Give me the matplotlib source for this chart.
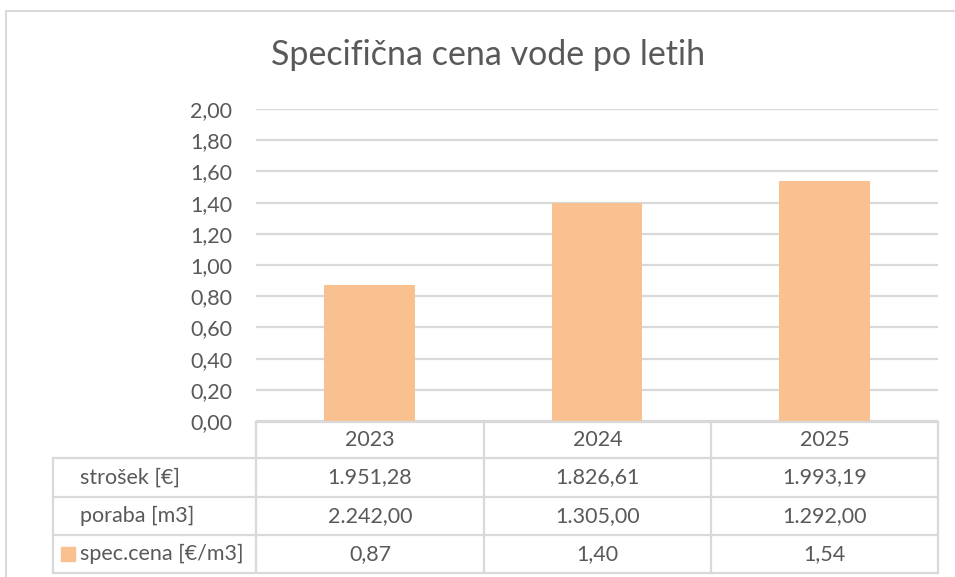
import matplotlib.pyplot as plt
import matplotlib.lines as mlines
import matplotlib.patches as mpatches

# -----------------------------
# DATA
# -----------------------------
years = ["2023", "2024", "2025"]
spec_cena = [0.87, 1.40, 1.54]
row_labels = ["strošek [€]", "poraba [m3]", "spec.cena [€/m3]"]
strosek_txt = ["1.951,28", "1.826,61", "1.993,19"]
poraba_txt = ["2.242,00", "1.305,00", "1.292,00"]
spec_txt = ["0,87", "1,40", "1,54"]
y_ticks = [0.0, 0.2, 0.4, 0.6, 0.8, 1.0, 1.2, 1.4, 1.6, 1.8, 2.0]

plt.rcParams["font.family"] = ["Lato", "DejaVu Sans"]

W, H = 955, 577
txt_col = "#595959"
line_col = "#D9D9D9"
bar_col = "#F8C18F"
fs = 15.5

fig = plt.figure(figsize=(W / 100, H / 100), dpi=100)


def fx(px):
    return px / W


def fy(py):
    return 1 - py / H


# -----------------------------
# PLOT AREA
# -----------------------------
x0, x1, ytop, ybot = 256, 938, 109, 421
ax = fig.add_axes([fx(x0), fy(ybot), fx(x1) - fx(x0), fy(ytop) - fy(ybot)])
ax.bar(range(len(years)), spec_cena, width=0.4, color=bar_col, zorder=3)
ax.set_xlim(-0.5, len(years) - 0.5)
ax.set_ylim(0, 2.0)
ax.set_yticks(y_ticks)
ax.set_yticklabels([f"{v:.2f}".replace(".", ",") for v in y_ticks])
ax.set_xticks([])
ax.grid(axis="y", color=line_col, linewidth=1.6, zorder=0)
for s in ax.spines.values():
    s.set_visible(False)
ax.tick_params(axis="y", length=0, pad=17, labelsize=fs, labelcolor=txt_col)

fig.text(fx(488), fy(55), "Specifična cena vode po letih", ha="center", va="center",
         fontsize=24.5, color=txt_col)

# outer chart frame (top / left visible)
fig.add_artist(mlines.Line2D([fx(6), fx(955)], [fy(11), fy(11)], color=line_col, lw=1.5))
fig.add_artist(mlines.Line2D([fx(6), fx(6)], [fy(11), fy(577)], color=line_col, lw=1.5))

# -----------------------------
# DATA TABLE
# -----------------------------
col_x = [x0, 484, 711, x1]
row_y = [422, 458, 497, 535, 573]
tl = 53

def hline(xa, xb, y):
    fig.add_artist(mlines.Line2D([fx(xa), fx(xb)], [fy(y), fy(y)], color=line_col, lw=1.6))


def vline(x, ya, yb):
    fig.add_artist(mlines.Line2D([fx(x), fx(x)], [fy(ya), fy(yb)], color=line_col, lw=1.6))


hline(x0, x1, row_y[0])
for y in row_y[1:]:
    hline(tl, x1, y)
vline(tl, row_y[1], row_y[-1])
for x in col_x:
    vline(x, row_y[0], row_y[-1])

cells = [years, strosek_txt, poraba_txt, spec_txt]
for r, vals in enumerate(cells):
    yc = (row_y[r] + row_y[r + 1]) / 2
    for c, v in enumerate(vals):
        xc = (col_x[c] + col_x[c + 1]) / 2
        fig.text(fx(xc), fy(yc), v, ha="center", va="center", fontsize=fs, color=txt_col)

for r, lab in enumerate(row_labels):
    yc = (row_y[r + 1] + row_y[r + 2]) / 2
    fig.text(fx(80), fy(yc), lab, ha="left", va="center", fontsize=fs, color=txt_col)

# legend key in last row
ky = (row_y[3] + row_y[4]) / 2
fig.add_artist(mpatches.Rectangle((fx(61), fy(ky + 7)), fx(14), fy(0) - fy(14),
                                  color=bar_col, transform=fig.transFigure))

fig.savefig("out.png", dpi=100)
